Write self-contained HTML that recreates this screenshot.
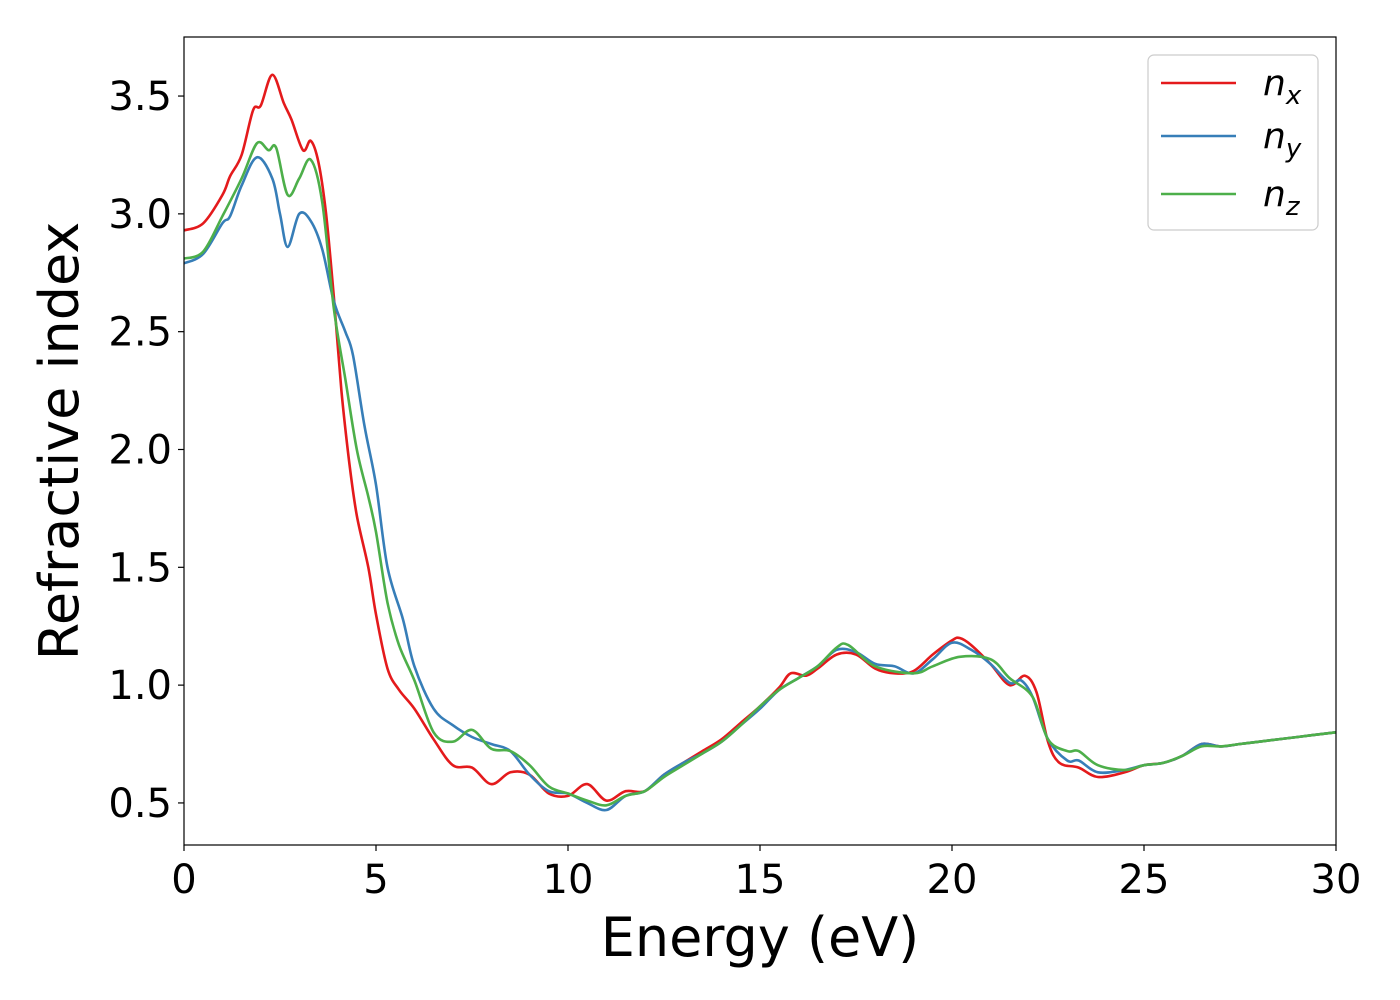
<!DOCTYPE html>
<html><head><meta charset="utf-8">
<style>
html,body{margin:0;padding:0;background:#fff;}
svg{display:block;font-family:"DejaVu Sans","Liberation Sans",sans-serif;}
</style></head>
<body>
<svg id="chart" width="1400" height="1000" xmlns="http://www.w3.org/2000/svg">
<g id="plot"></g>
</svg>
<script>
const xTicks=[0,5,10,15,20,25,30];
const yTicks=[0.5,1.0,1.5,2.0,2.5,3.0,3.5];
const yTickLabels=["0.5","1.0","1.5","2.0","2.5","3.0","3.5"];
const seriesNames=["n_x","n_y","n_z"];
const nxE=[0,0.5,1.0,1.2,1.5,1.8,2.0,2.3,2.6,2.8,3.1,3.3,3.5,3.7,3.9,4.1,4.3,4.5,4.8,5.0,5.3,5.6,6.0,6.5,7.0,7.5,8.0,8.5,9.0,9.5,10.0,10.5,11.0,11.5,12.0,12.5,13,13.5,14,14.5,15,15.5,15.8,16.2,16.5,17,17.5,18,18.5,19,19.5,20,20.2,20.5,21,21.5,21.9,22.2,22.5,22.8,23.3,23.8,24.5,25,25.5,26,26.5,27,27.5,28,29,30];
const nxV=[2.93,2.96,3.08,3.16,3.25,3.44,3.46,3.59,3.47,3.40,3.27,3.31,3.22,3.0,2.65,2.25,1.95,1.72,1.50,1.30,1.07,0.98,0.90,0.77,0.66,0.65,0.58,0.63,0.62,0.54,0.53,0.58,0.51,0.55,0.55,0.62,0.67,0.72,0.77,0.84,0.91,0.99,1.05,1.04,1.07,1.13,1.13,1.07,1.05,1.06,1.13,1.19,1.20,1.17,1.09,1.00,1.04,0.97,0.76,0.67,0.65,0.61,0.63,0.66,0.67,0.70,0.75,0.74,0.75,0.76,0.78,0.80];
const nyE=[0,0.5,1.0,1.2,1.5,1.9,2.3,2.5,2.7,3.0,3.3,3.6,3.9,4.2,4.4,4.7,5.0,5.3,5.7,6.0,6.5,7.0,7.5,8.0,8.5,9.0,9.5,10.0,10.5,11.0,11.5,12,12.5,13,13.5,14,14.5,15,15.5,16,16.5,17,17.5,18,18.5,19,19.5,20,20.5,21,21.5,21.8,22.1,22.5,23,23.3,23.8,24.5,25,25.5,26,26.5,27,27.5,28,29,30];
const nyV=[2.79,2.83,2.96,2.99,3.12,3.24,3.15,3.0,2.86,3.00,2.97,2.85,2.63,2.50,2.40,2.10,1.85,1.50,1.28,1.08,0.90,0.83,0.78,0.75,0.72,0.62,0.55,0.54,0.50,0.47,0.53,0.55,0.62,0.67,0.71,0.76,0.83,0.90,0.98,1.03,1.08,1.15,1.14,1.09,1.08,1.05,1.11,1.18,1.15,1.09,1.01,1.02,0.95,0.77,0.68,0.68,0.63,0.64,0.66,0.67,0.70,0.75,0.74,0.75,0.76,0.78,0.80];
const nzE=[0,0.5,1.0,1.5,1.9,2.2,2.4,2.7,3.0,3.3,3.6,3.9,4.2,4.5,4.8,5.0,5.3,5.6,6.0,6.5,7.0,7.5,8.0,8.5,9.0,9.5,10,10.5,11,11.5,12,12.5,13,13.5,14,14.5,15,15.5,16,16.5,17,17.3,18,19,19.5,20.2,21,21.5,22.1,22.5,23,23.3,23.8,24.5,25,25.5,26,26.5,27,27.5,28,29,30];
const nzV=[2.81,2.84,2.99,3.15,3.30,3.27,3.28,3.08,3.15,3.23,3.05,2.60,2.30,2.00,1.80,1.65,1.35,1.17,1.02,0.80,0.76,0.81,0.73,0.72,0.66,0.57,0.54,0.51,0.49,0.53,0.55,0.61,0.66,0.71,0.76,0.83,0.91,0.98,1.03,1.08,1.16,1.17,1.08,1.05,1.08,1.12,1.11,1.03,0.95,0.77,0.72,0.72,0.66,0.64,0.66,0.67,0.70,0.74,0.74,0.75,0.76,0.78,0.80];
const colors=["#e41a1c","#377eb8","#4daf4a"];

const X0=184,X1=1336,Y0=37,Y1=845;
const xMin=0,xMax=30,yMin=0.3215,yMax=3.7506;
const sx=v=>X0+(v-xMin)/(xMax-xMin)*(X1-X0);
const sy=v=>Y1-(v-yMin)/(yMax-yMin)*(Y1-Y0);
const NS="http://www.w3.org/2000/svg";
const plot=document.getElementById('plot');
function mk(tag,attrs,parent){const e=document.createElementNS(NS,tag);for(const k in attrs)e.setAttribute(k,attrs[k]);(parent||plot).appendChild(e);return e;}

function pathFor(E,V){
  const p=E.map((e,i)=>[sx(e),sy(V[i])]);
  let d="M"+p[0][0].toFixed(1)+","+p[0][1].toFixed(1);
  for(let i=0;i<p.length-1;i++){
    const a=p[Math.max(0,i-1)],b=p[i],c=p[i+1],q=p[Math.min(p.length-1,i+2)];
    const c1=[b[0]+(c[0]-a[0])/6,b[1]+(c[1]-a[1])/6];
    const c2=[c[0]-(q[0]-b[0])/6,c[1]-(q[1]-b[1])/6];
    d+="C"+c1[0].toFixed(1)+","+c1[1].toFixed(1)+" "+c2[0].toFixed(1)+","+c2[1].toFixed(1)+" "+c[0].toFixed(1)+","+c[1].toFixed(1);
  }
  return d;
}
const clip=mk('clipPath',{id:'cp'});mk('rect',{x:X0,y:Y0,width:X1-X0,height:Y1-Y0},clip);
const data=[[nxE,nxV],[nyE,nyV],[nzE,nzV]];
data.forEach((s,i)=>{
  const el=mk('path',{d:pathFor(s[0],s[1]),fill:'none',stroke:colors[i],'stroke-width':2.6,'clip-path':'url(#cp)'});
  
  
});
const frame=mk('rect',{x:X0,y:Y0,width:X1-X0,height:Y1-Y0,fill:'none',stroke:'#000','stroke-width':1.2});


xTicks.forEach(t=>{
  mk('line',{x1:sx(t),x2:sx(t),y1:Y1,y2:Y1+6,stroke:'#000','stroke-width':1.2});
  const tx=mk('text',{x:sx(t),y:Y1+48,'font-size':40,'text-anchor':'middle'});tx.textContent=t;
  
  
});
yTicks.forEach((t,i)=>{
  mk('line',{x1:X0-6,x2:X0,y1:sy(t),y2:sy(t),stroke:'#000','stroke-width':1.2});
  const tx=mk('text',{x:X0-12,y:sy(t)+14,'font-size':40,'text-anchor':'end'});tx.textContent=yTickLabels[i];
  
  
});
const xl=mk('text',{x:760,y:956,'font-size':54,'text-anchor':'middle'});xl.textContent="Energy (eV)";


const yl=mk('text',{x:78,y:441,'font-size':54,'text-anchor':'middle',transform:'rotate(-90 78 441)'});yl.textContent="Refractive index";


// legend
const lg=mk('g',{});


mk('rect',{x:1148,y:55,width:170,height:175,rx:6,fill:'#fff',stroke:'#ccc','stroke-width':1.2},lg);
const ly=[83,136,194],subs=["x","y","z"];
subs.forEach((s,i)=>{
  const en=mk('g',{},lg);
  
  
  mk('line',{x1:1161,x2:1236,y1:ly[i],y2:ly[i],stroke:colors[i],'stroke-width':2.6},en);
  const t=mk('text',{x:1263,y:ly[i]+12,'font-size':36,'font-style':'italic'},en);
  t.textContent="n";
  const ts=mk('tspan',{'font-size':26,dy:9},t);ts.textContent=s;
});
</script>
</body></html>
